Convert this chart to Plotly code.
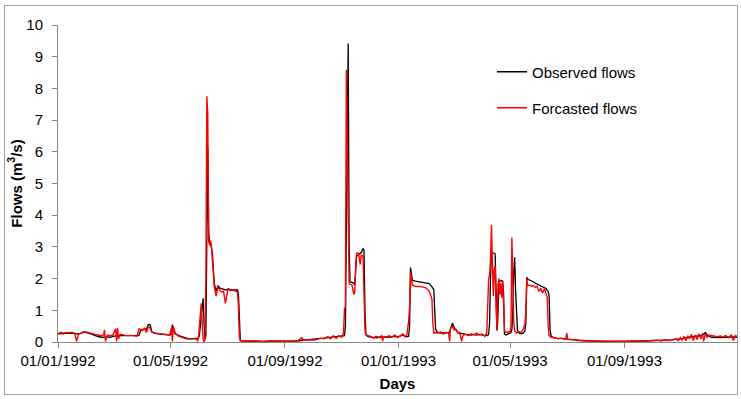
import pandas as pd
import plotly.graph_objects as go

# ---- data (day offset from 01/01/1992, observed flow, forecasted flow in m3/s) ----
days = [
    0, 3, 6, 9, 12, 15, 18, 20, 22, 25, 28, 31, 34, 37, 40, 43, 46, 49, 50, 51,
    53, 56, 59, 62, 63, 64, 65, 67, 70, 74, 78, 82, 85, 87, 89, 91, 93, 95, 97, 99,
    101, 104, 108, 112, 116, 120, 122, 123, 124, 126, 130, 134, 138, 142, 146, 149, 150, 151,
    152, 154, 155, 156, 157, 158, 159, 160, 161, 162, 163, 164, 165, 166, 167, 168, 170, 172, 174, 176,
    178, 180, 181, 183, 185, 187, 189, 191, 193, 194, 195, 196,
    200, 210, 220, 230, 240, 250, 258, 262, 264, 270, 276, 282, 286, 290, 293, 296, 299, 302, 305, 307,
    308, 309, 310, 311, 312, 313, 314, 316, 318, 319, 320, 321, 323, 325, 326, 328, 329, 330, 331, 333,
    336, 339, 342, 345, 348, 349, 350, 353, 356, 359, 362, 365, 368, 371, 373, 375, 377, 378, 379, 380,
    381, 384, 388, 392, 396, 399, 401, 402, 403, 404, 405, 406, 408,
    411, 414, 417, 420, 421, 422, 424, 426, 428, 430, 432, 434, 435, 438, 441, 444, 447, 450, 453, 456,
    459, 461,
    462, 463, 464, 465, 466, 467, 468, 469, 470, 471, 472, 473, 474, 475, 476, 477, 478, 479, 480, 482,
    484, 486, 487, 488, 489, 490, 491, 492, 493, 494, 496, 498, 500, 502, 503, 504, 505, 507, 509, 511,
    513, 515, 517, 519, 521, 523, 525, 526, 527, 528, 529, 530,
    532, 535, 538, 541, 544, 546, 547, 548, 552, 556, 560, 564,
    570, 580, 590, 600, 610, 620, 630, 638, 644, 648, 652, 656, 660, 664, 667, 669, 671, 673, 675, 677,
    679, 681, 683, 685, 687, 689, 691, 693, 694, 696, 698, 700, 703, 706, 709, 712, 715, 718, 721, 724,
    726, 728, 730,
]

observed = [
    0.25, 0.27, 0.26, 0.28, 0.27, 0.28, 0.27, 0.25, 0.25, 0.27, 0.32, 0.30, 0.27, 0.24, 0.20, 0.17, 0.15, 0.15, 0.16, 0.16,
    0.16, 0.15, 0.18, 0.20, 0.20, 0.21, 0.21, 0.21, 0.20, 0.20, 0.21, 0.19, 0.20, 0.21, 0.38, 0.38, 0.42, 0.40, 0.55, 0.55,
    0.32, 0.27, 0.26, 0.25, 0.24, 0.22, 0.25, 0.55, 0.40, 0.25, 0.20, 0.15, 0.12, 0.10, 0.10, 0.10, 0.10, 0.12,
    0.20, 0.70, 1.10, 1.38, 0.60, 0.10, 0.20, 4.50, 6.15, 3.50, 3.10, 3.12, 3.00, 2.80, 2.30, 1.85, 1.60, 1.78, 1.70, 1.68,
    1.66, 1.65, 1.64, 1.68, 1.64, 1.62, 1.64, 1.63, 1.64, 1.50, 0.30, 0.05,
    0.03, 0.02, 0.02, 0.03, 0.02, 0.03, 0.04, 0.05, 0.05, 0.06, 0.08, 0.10, 0.12, 0.14, 0.15, 0.16, 0.15, 0.18, 0.17, 0.18,
    0.20, 0.50, 4.00, 8.60, 9.42, 3.00, 1.90, 1.88, 1.85, 1.80, 2.20, 2.70, 2.75, 2.80, 2.82, 2.95, 2.90, 1.00, 0.25, 0.17,
    0.15, 0.14, 0.13, 0.15, 0.14, 0.14, 0.15, 0.16, 0.15, 0.17, 0.18, 0.16, 0.20, 0.22, 0.18, 0.16, 0.18, 0.50, 2.35, 2.10,
    1.95, 1.92, 1.90, 1.88, 1.85, 1.84, 1.78, 1.72, 1.70, 1.66, 1.20, 0.40, 0.30,
    0.28, 0.30, 0.28, 0.30, 0.32, 0.40, 0.60, 0.45, 0.38, 0.30, 0.28, 0.26, 0.26, 0.24, 0.23, 0.22, 0.24, 0.22, 0.24, 0.22,
    0.20, 0.22,
    0.20, 0.25, 0.60, 2.00, 2.82, 2.82, 2.82, 2.80, 2.78, 1.80, 0.36, 0.80, 1.95, 1.93, 1.92, 1.94, 1.90, 1.60, 0.25, 0.22,
    0.25, 0.28, 0.30, 0.40, 1.00, 2.20, 2.67, 1.60, 0.83, 0.35, 0.28, 0.26, 0.28, 0.35, 0.60, 2.04, 1.98, 1.96, 1.94, 1.90,
    1.86, 1.83, 1.80, 1.78, 1.76, 1.72, 1.68, 1.62, 1.60, 1.45, 0.40, 0.20,
    0.15, 0.12, 0.12, 0.10, 0.10, 0.10, 0.10, 0.09, 0.07, 0.06, 0.05, 0.04,
    0.03, 0.02, 0.02, 0.02, 0.02, 0.02, 0.03, 0.04, 0.05, 0.05, 0.06, 0.05, 0.07, 0.08, 0.08, 0.10, 0.10, 0.12, 0.12, 0.14,
    0.15, 0.16, 0.16, 0.18, 0.17, 0.20, 0.20, 0.22, 0.24, 0.30, 0.22, 0.18, 0.15, 0.14, 0.15, 0.14, 0.15, 0.14, 0.15, 0.16,
    0.15, 0.16, 0.15,
]

forecast = [
    0.27, 0.30, 0.28, 0.30, 0.29, 0.31, 0.26, 0.02, 0.24, 0.29, 0.33, 0.31, 0.28, 0.26, 0.24, 0.22, 0.20, 0.22, 0.38, 0.02,
    0.22, 0.20, 0.22, 0.42, 0.02, 0.45, 0.10, 0.24, 0.22, 0.20, 0.21, 0.20, 0.18, 0.42, 0.40, 0.36, 0.45, 0.30, 0.48, 0.44,
    0.30, 0.28, 0.27, 0.25, 0.24, 0.22, 0.45, 0.02, 0.48, 0.28, 0.18, 0.14, 0.10, 0.10, 0.10, 0.10, 0.02, 0.15,
    0.50, 1.22, 0.60, 0.10, 0.02, 0.05, 2.00, 7.75, 7.20, 3.20, 3.05, 3.20, 3.00, 2.60, 2.10, 1.75, 1.45, 1.75, 1.62, 1.58,
    1.60, 1.22, 1.40, 1.68, 1.62, 1.66, 1.62, 1.60, 1.58, 1.10, 0.15, 0.04,
    0.03, 0.03, 0.02, 0.04, 0.03, 0.02, 0.04, 0.14, 0.05, 0.07, 0.06, 0.12, 0.10, 0.17, 0.10, 0.20, 0.12, 0.20, 0.15, 0.30,
    1.05, 1.10, 8.58, 6.00, 2.50, 1.85, 1.82, 1.80, 1.50, 1.55, 2.30, 2.80, 2.80, 2.45, 2.75, 2.70, 1.50, 0.40, 0.22, 0.20,
    0.18, 0.12, 0.18, 0.14, 0.20, 0.03, 0.16, 0.14, 0.20, 0.15, 0.22, 0.14, 0.19, 0.25, 0.16, 0.22, 0.65, 1.10, 2.20, 1.95,
    1.80, 1.76, 1.76, 1.74, 1.70, 1.60, 1.45, 1.35, 0.60, 0.30, 0.28, 0.30, 0.28,
    0.32, 0.25, 0.30, 0.28, 0.02, 0.45, 0.50, 0.38, 0.40, 0.28, 0.30, 0.02, 0.18, 0.25, 0.20, 0.26, 0.22, 0.28, 0.22, 0.25,
    0.18, 0.30,
    1.20, 2.00, 2.10, 2.60, 3.70, 2.60, 1.45, 2.30, 2.40, 1.00, 0.40, 1.80, 2.00, 1.50, 1.85, 1.40, 1.95, 1.20, 0.35, 0.30,
    0.32, 0.30, 0.50, 3.30, 2.00, 0.60, 0.35, 0.30, 0.28, 0.30, 0.32, 0.30, 0.40, 0.55, 1.00, 2.00, 1.78, 1.80, 1.76, 1.78,
    1.72, 1.76, 1.60, 1.68, 1.55, 1.68, 1.50, 1.40, 0.50, 0.20, 0.18, 0.15,
    0.14, 0.13, 0.10, 0.12, 0.09, 0.10, 0.28, 0.08, 0.07, 0.06, 0.05, 0.05,
    0.04, 0.03, 0.02, 0.02, 0.02, 0.03, 0.02, 0.05, 0.06, 0.03, 0.07, 0.05, 0.06, 0.10, 0.04, 0.14, 0.06, 0.18, 0.04, 0.20,
    0.10, 0.24, 0.05, 0.22, 0.08, 0.26, 0.10, 0.28, 0.02, 0.25, 0.15, 0.22, 0.20, 0.18, 0.17, 0.19, 0.16, 0.20, 0.14, 0.22,
    0.05, 0.20, 0.18,
]

tick_dates = ["1992-01-01", "1992-05-01", "1992-09-01", "1993-01-01", "1993-05-01", "1993-09-01"]
tick_labels = ["01/01/1992", "01/05/1992", "01/09/1992", "01/01/1993", "01/05/1993", "01/09/1993"]

assert len(days) == len(observed) == len(forecast), (len(days), len(observed), len(forecast))

base = pd.Timestamp("1992-01-01")
dates = [base + pd.Timedelta(days=d) for d in days]

FONT = "Liberation Sans, Arial, sans-serif"
GREY = "#868686"

fig = go.Figure()
fig.add_trace(go.Scatter(x=dates, y=observed, mode="lines", name="Observed flows",
                         line=dict(color="#000000", width=1.3), legend="legend"))
fig.add_trace(go.Scatter(x=dates, y=forecast, mode="lines", name="Forcasted flows",
                         line=dict(color="#FF0000", width=1.4), legend="legend2"))

W, H = 741, 399
L, R, T, B = 58, 4, 25, 57
pw, ph = W - L - R, H - T - B

def px(x):
    return (x - L) / pw

def py(y):
    return (H - B - y) / ph

legend_common = dict(font=dict(family=FONT, size=15, color="#000000"), bgcolor="rgba(0,0,0,0)",
                     borderwidth=0, xanchor="left", yanchor="middle", itemwidth=30)

fig.update_layout(
    width=W, height=H,
    margin=dict(l=L, r=R, t=T, b=B, pad=0),
    paper_bgcolor="white", plot_bgcolor="white",
    font=dict(family=FONT, size=15, color="#000000"),
    showlegend=True,
    legend=dict(x=px(492), y=py(72), **legend_common),
    legend2=dict(x=px(492), y=py(108), **legend_common),
    xaxis=dict(
        type="date", range=["1992-01-01", "1993-12-31"],
        tickvals=tick_dates, ticktext=tick_labels,
        ticks="outside", ticklen=5, tickcolor=GREY, tickwidth=1,
        showline=True, linecolor=GREY, linewidth=1,
        showgrid=False, zeroline=False,
        tickfont=dict(family=FONT, size=15, color="#000000"),
        title=dict(text="<b>Days</b>", font=dict(family=FONT, size=15, color="#000000"), standoff=10),
    ),
    yaxis=dict(
        range=[0, 10], tick0=0, dtick=1,
        ticks="outside", ticklen=5, tickcolor=GREY, tickwidth=1,
        showline=True, linecolor=GREY, linewidth=1,
        showgrid=False, zeroline=False,
        tickfont=dict(family=FONT, size=15, color="#000000"),
        ticklabelstandoff=6,
        title=dict(text="<b>Flows (m<sup>3</sup>/s)</b>", font=dict(family=FONT, size=15, color="#000000"), standoff=0),
    ),
    shapes=[dict(type="rect", xref="paper", yref="paper",
                 x0=px(4.5), x1=px(737.5), y0=py(394.5), y1=py(5.5),
                 line=dict(color="#A0A0A0", width=1), fillcolor="rgba(0,0,0,0)", layer="below")],
)

fig.write_html("out.html")
